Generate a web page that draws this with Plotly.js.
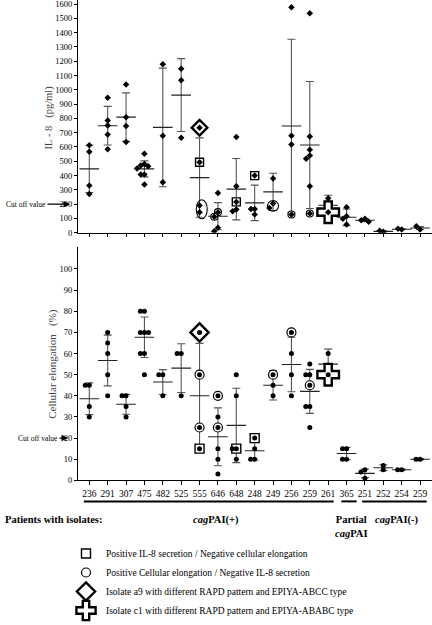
<!DOCTYPE html>
<html><head><meta charset="utf-8">
<script src="https://cdn.plot.ly/plotly-3.0.1.min.js"></script>
<style>html,body{margin:0;padding:0;background:#fff}</style>
</head><body>
<div id="chart" style="width:432px;height:625px"></div>
<script>
// ---------- DATA ----------
const isolates = ['236','291','307','475','482','525','555','646','648','248','249','256','259','261','365','251','252','254','259'];

// IL-8 (pg/ml) per isolate
const il8Points = [
  [612,567,330,272],[944,786,751,688,584],[1037,809,747,635],
  [553,481,470,465,449,407,407,337],[1179,679,353],[1147,1067,665],
  [735,493,190,144],[279,144,112,35,11],[670,325,216,163,151],
  [400,167,167,128],[379,204,174],[1577,679,618,128],
  [1535,674,581,541,518,325,135],[241,144],[179,116,98,58],
  [98,88,77],[7,14],[23,28],[23,46]
];
const il8Mean = [447,749,809,447,737,963,386,116,305,209,286,747,614,192,108,88,10,25,33];
const il8SD   = [165,135,170,56,415,255,278,95,215,124,130,607,444,70,58,10,4,3,10];
const il8Ticks = [0,100,200,300,400,500,600,700,800,900,1000,1100,1200,1300,1400,1500,1600];

// Cellular elongation (%) per isolate
const elongPoints = [
  [45,45,35,30],[70,65,60,50,40],[40,40,35,30],
  [80,80,70,70,70,60,60,50],[50,50,40],[60,60,40],
  [70,50,25,15],[40,30,25,15,10,3],[50,40,15,15,10],
  [20,15,10,10],[50,45,40],[70,60,50,40],
  [55,50,50,45,35,35,25],[60,50],[15,15,10,10],
  [5,4,1],[5,7],[5,5],[10,10]
];
const elongMean = [38.6,56.7,36,67.7,46.5,53.1,40,20.6,26,14,45,54.8,42.1,55,12.7,3.3,6,5,10];
const elongSD   = [7.5,12,4.7,9.6,5.9,11.5,24.8,13.7,17.6,4.4,7,12.9,10.4,7.1,2.9,2,1.4,0.3,0.3];
const elongTicks = [0,10,20,30,40,50,60,70,80,90,100];

// highlighted isolates (type, isolate index, value)
const il8MarkType  = ['square','square','square','circle','circle','circle','circle','circle','diamond','cross'];
const il8MarkGroup = [6,8,9,7,7,11,12,13,6,13];
const il8MarkValue = [493,216,400,144,112,128,135,144,735,144];
const il8EllipseGroup = [6,10];
const il8EllipseLow   = [98,151];
const il8EllipseHigh  = [231,225];

const elongMarkType  = ['square','square','square','circle','circle','circle','circle','circle','circle','circle','circle','diamond','cross'];
const elongMarkGroup = [6,8,9,6,6,7,7,10,11,12,13,6,13];
const elongMarkValue = [15,15,20,50,25,40,25,50,70,45,50,70,50];

const il8Cutoff = 200;
const elongCutoff = 20;

const groupNames = ['<b><i>cag</i>PAI(+)</b>','<b>Partial<br><i>cag</i>PAI</b>','<b><i>cag</i>PAI(-)</b>'];
const groupFirst = [0,14,15];
const groupLast  = [13,14,18];

const markTypes = ['square','circle','diamond','cross'];
const legendLabels = [
  'Positive IL-8 secretion / Negative cellular elongation',
  'Positive Cellular elongation / Negative IL-8 secretion',
  'Isolate a9 with different RAPD pattern and EPIYA-ABCC type',
  'Isolate c1 with different RAPD pattern and EPIYA-ABABC type'
];

// ---------- DRAWING ----------
const SERIF = 'Liberation Serif, Times New Roman, Times, serif';
const idx = isolates.map((_, i) => i);

function dodge(vals, thr, step) {
  const placed = [], offs = [];
  const slots = [0, -1, 1, -2, 2, -3, 3];
  vals.forEach(v => {
    for (const s of slots) {
      if (!placed.some(p => p.s === s && Math.abs(p.v - v) < thr)) {
        placed.push({s, v}); offs.push(s * step); return;
      }
    }
    offs.push(0);
  });
  return offs;
}

function panel(points, mean, sd, xa, ya, thr, step, ptSymbol, ptSize, capColor) {
  const offsets = points.map(g => dodge(g, thr, step));
  const px = [], py = [];
  points.forEach((g, i) => g.forEach((v, j) => { px.push(i + offsets[i][j]); py.push(v); }));
  const bars = {
    type: 'scatter', mode: 'markers', x: idx, y: mean, xaxis: xa, yaxis: ya,
    marker: {symbol: 'line-ew', size: 14, color: '#222', line: {width: 1.1, color: '#222'}},
    error_y: {type: 'data', array: sd, visible: true, color: capColor, thickness: 1.1, width: 4},
    showlegend: false, hoverinfo: 'skip'
  };
  const pts = {
    type: 'scatter', mode: 'markers', x: px, y: py, xaxis: xa, yaxis: ya,
    marker: {symbol: ptSymbol, size: ptSize, color: '#000'},
    showlegend: false, hoverinfo: 'y'
  };
  return {bars, pts, offsets};
}

function markTraces(types, groups, values, points, offsets, xa, ya, sizes, widths, legend) {
  return markTypes.map((t, k) => {
    const xs = [], ys = [];
    types.forEach((tt, i) => {
      if (tt !== t) return;
      const g = groups[i], vals = points[g];
      let best = 0;
      vals.forEach((v, j) => { if (Math.abs(v - values[i]) < Math.abs(vals[best] - values[i])) best = j; });
      xs.push(g + offsets[g][best]); ys.push(values[i]);
    });
    return {
      type: 'scatter', mode: 'markers', x: xs, y: ys, xaxis: xa, yaxis: ya,
      name: legendLabels[k], legendgroup: t, showlegend: legend,
      marker: {symbol: t, size: sizes[k], color: '#fff', line: {color: '#000', width: widths[k]}},
      hoverinfo: 'name'
    };
  });
}

const topPanel = panel(il8Points, il8Mean, il8SD, 'x', 'y', 35, 0.2, 'diamond', 5, '#555');
const botPanel = panel(elongPoints, elongMean, elongSD, 'x2', 'y2', 1.9, 0.22, 'circle', 5, '#555');

const topMarks = markTraces(il8MarkType, il8MarkGroup, il8MarkValue, il8Points, topPanel.offsets, 'x', 'y',
  [8, 7, 12, 18], [1.4, 1.1, 2.4, 2.4], false);
const botMarks = markTraces(elongMarkType, elongMarkGroup, elongMarkValue, elongPoints, botPanel.offsets, 'x2', 'y2',
  [9, 9, 14, 18], [1.4, 1.2, 2.4, 2.4], true);

const data = [topPanel.bars, botPanel.bars, ...topMarks, ...botMarks, topPanel.pts, botPanel.pts];

const XR = [-0.615, 18.65];
const W = 625;
const axisBase = {
  showline: true, linecolor: '#000', linewidth: 1, showgrid: false, zeroline: false,
  ticks: 'outside', ticklen: 3, tickcolor: '#000', tickwidth: 1, ticklabeloverflow: 'allow',
  tickfont: {family: SERIF, size: 8.5, color: '#000'}
};

const shapes = [];
il8EllipseGroup.forEach((g, i) => {
  shapes.push({type: 'circle', xref: 'x', yref: 'y', x0: g - 0.3 + (i === 0 ? 0.12 : 0), x1: g + 0.3 + (i === 0 ? 0.12 : 0),
    y0: il8EllipseLow[i], y1: il8EllipseHigh[i], line: {color: '#000', width: 1.1}, layer: 'above'});
});
const lineY = (W - 503) / W;
const groupX0 = [-0.3, 13.72, 14.85], groupX1 = [13.3, 14.55, 18.36];
groupNames.forEach((n, i) => {
  shapes.push({type: 'line', xref: 'x2', yref: 'paper', x0: groupX0[i], x1: groupX1[i], y0: lineY, y1: lineY,
    line: {color: '#000', width: 2}});
});

const annotations = [
  {text: 'IL\u00a0-\u00a08\u00a0\u00a0\u00a0(pg/ml)', xref: 'paper', yref: 'paper', x: (49 - 78) / 354, y: (W - 118) / W,
   xanchor: 'center', yanchor: 'middle',
   textangle: -90, showarrow: false, font: {family: SERIF, size: 10.5, color: '#444'}},
  {text: 'Cellular elongation\u00a0\u00a0\u00a0(%)', xref: 'paper', yref: 'paper', x: (53 - 78) / 354, y: (W - 365) / W,
   xanchor: 'center', yanchor: 'middle',
   textangle: -90, showarrow: false, font: {family: SERIF, size: 11, color: '#444'}},
  {text: 'Cut off value', xref: 'paper', yref: 'y', x: (70 - 78) / 354, y: il8Cutoff, ax: -44, ay: 0,
   showarrow: true, arrowhead: 2, arrowsize: 1, arrowwidth: 1.3, arrowcolor: '#000',
   font: {family: SERIF, size: 7.5, color: '#000'}},
  {text: 'Cut off value', xref: 'paper', yref: 'y2', x: (68 - 78) / 354, y: elongCutoff, ax: -30, ay: 0,
   showarrow: true, arrowhead: 2, arrowsize: 1, arrowwidth: 1.3, arrowcolor: '#000',
   font: {family: SERIF, size: 7.5, color: '#000'}},
  {text: '<b>Patients with isolates:</b>', xref: 'paper', yref: 'paper', x: (3 - 78) / 354, y: (W - 521) / W,
   xanchor: 'left', yanchor: 'middle', showarrow: false, font: {family: SERIF, size: 10.5, color: '#000'}}
];
groupNames.forEach((n, i) => {
  annotations.push({text: n, xref: 'x2', yref: 'paper', x: (groupX0[i] + groupX1[i]) / 2 + (i === 0 ? 0.4 : 0.1),
    y: (W - 514) / W, xanchor: 'center', yanchor: 'top', showarrow: false, align: 'center',
    font: {family: SERIF, size: 10.5, color: '#000'}});
});

const layout = {
  width: 432, height: 625,
  margin: {l: 78, r: 0, t: 0, b: 0},
  paper_bgcolor: '#fff', plot_bgcolor: '#fff',
  font: {family: SERIF},
  showlegend: true,
  legend: {x: (66 - 78) / 354, xanchor: 'left', y: (W - 541) / W, yanchor: 'top',
    font: {family: SERIF, size: 9.5, color: '#000'}, bgcolor: 'rgba(0,0,0,0)', tracegroupgap: 0},
  xaxis: Object.assign({}, axisBase, {domain: [0, 1], range: XR, anchor: 'y', tickvals: idx, showticklabels: false}),
  yaxis: Object.assign({}, axisBase, {domain: [(W - 233.5) / W, (W - 0.5) / W], range: [0, 1625], tickvals: il8Ticks, anchor: 'x'}),
  xaxis2: Object.assign({}, axisBase, {domain: [0, 1], range: XR, anchor: 'y2', tickvals: idx, ticktext: isolates,
    ticklen: 4, tickfont: {family: SERIF, size: 9.5, color: '#000'}}),
  yaxis2: Object.assign({}, axisBase, {domain: [(W - 481.9) / W, (W - 248) / W], range: [0, 110.3], tickvals: elongTicks, anchor: 'x2'}),
  shapes, annotations
};

Plotly.newPlot('chart', data, layout, {displayModeBar: false, staticPlot: true});
</script>
</body></html>
